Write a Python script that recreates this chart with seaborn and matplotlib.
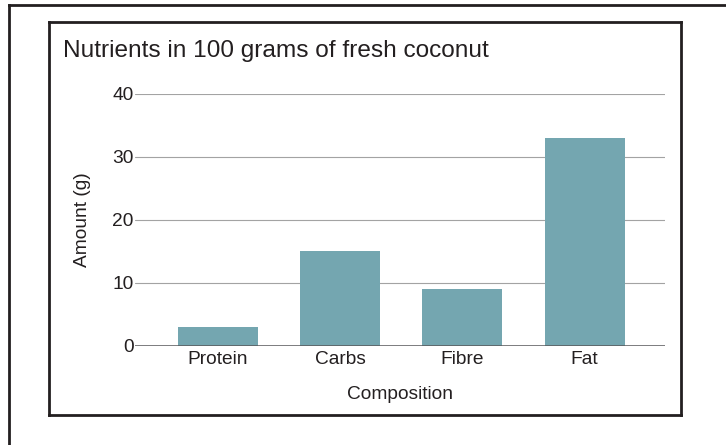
import matplotlib
matplotlib.use("Agg")
import matplotlib.pyplot as plt
from matplotlib.lines import Line2D
import seaborn as sns
import pandas as pd

categories = ["Protein", "Carbs", "Fibre", "Fat"]
amounts = [3, 15, 9, 33]
y_ticks = [0, 10, 20, 30, 40]

sns.set_theme(style="white")
plt.rcParams["font.family"] = ["Liberation Sans", "DejaVu Sans"]

W, H = 726, 445
fig = plt.figure(figsize=(W / 100, H / 100), dpi=100)
ax = fig.add_axes([135 / W, 1 - 345.7 / H, (665 - 135) / W, (345.7 - 94) / H])

df = pd.DataFrame({"Composition": categories, "Amount": amounts})
sns.barplot(data=df, x="Composition", y="Amount", color="#74a6b0",
            saturation=1, width=0.656, linewidth=0, ax=ax, zorder=3)

ax.set_ylim(0, 40)
ax.set_xlim(-0.679, 3.658)
ax.set_yticks(y_ticks)
ax.set_yticklabels([str(t) for t in y_ticks])
for t in y_ticks[1:]:
    ax.axhline(t, color="#a3a3a3", lw=0.8, zorder=1)
ax.axhline(0, color="#58595b", lw=1.1, zorder=4)

for s in ax.spines.values():
    s.set_visible(False)
fs = 13.8
ax.tick_params(axis="both", length=0, labelsize=fs, colors="#231f20")
ax.tick_params(axis="y", pad=1)
ax.tick_params(axis="x", pad=4)
ax.set_xlabel("Composition", fontsize=fs, color="#231f20", labelpad=13)
ax.set_ylabel("Amount (g)", fontsize=fs, color="#231f20", labelpad=15)

fig.text(63 / W, 1 - 51 / H, "Nutrients in 100 grams of fresh coconut",
         fontsize=17.6, color="#231f20", va="center", ha="left")

def px_line(x0, y0, x1, y1):
    fig.add_artist(Line2D([x0 / W, x1 / W], [1 - y0 / H, 1 - y1 / H],
                          transform=fig.transFigure, color="#231f20",
                          lw=2.0, solid_capstyle="projecting"))

# outer frame (cropped)
px_line(8.7, 5.3, 740, 5.3)
px_line(8.7, 5.3, 8.7, 460)
# inner frame
px_line(49, 22, 681, 22)
px_line(681, 22, 681, 415.3)
px_line(681, 415.3, 49, 415.3)
px_line(49, 415.3, 49, 22)

fig.savefig("out.png", dpi=100)
